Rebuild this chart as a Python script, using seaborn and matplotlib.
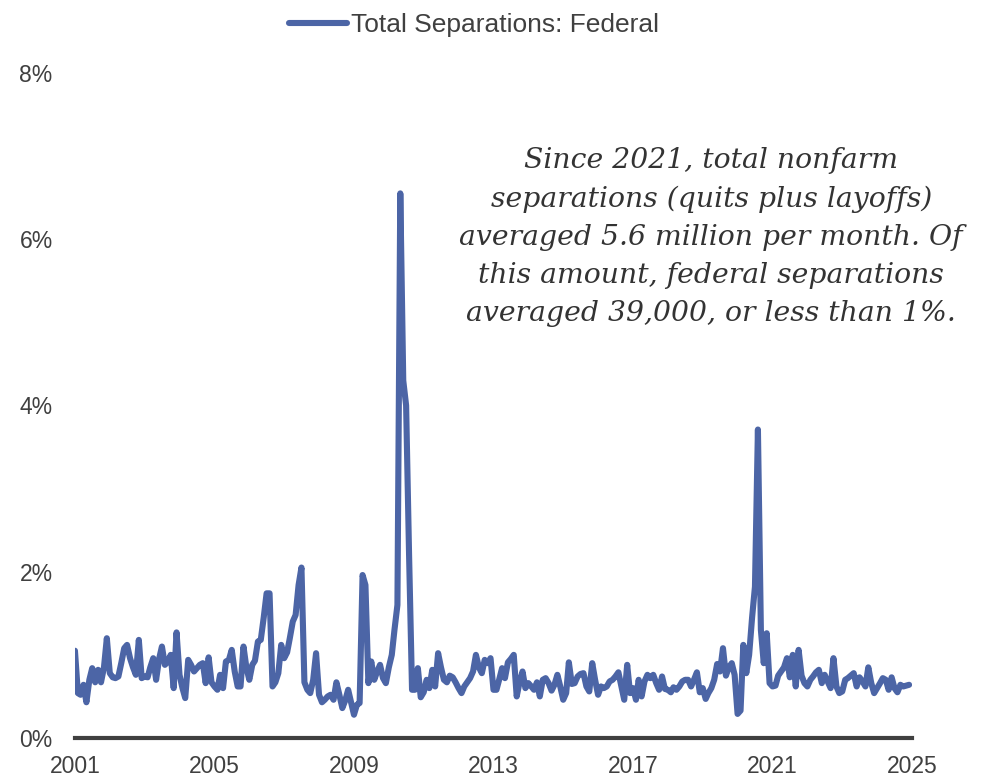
import pandas as pd
import matplotlib.pyplot as plt
import matplotlib.dates as mdates
import seaborn as sns

# monthly values, % of federal employment, Jan 2001 - Dec 2024
sep_2001 = [1.05, 0.54, 0.52, 0.64, 0.43, 0.70, 0.84, 0.67, 0.82, 0.67, 0.85, 1.20]
sep_2002 = [0.78, 0.73, 0.72, 0.74, 0.90, 1.08, 1.12, 0.96, 0.85, 0.76, 1.18, 0.72]
sep_2003 = [0.74, 0.73, 0.85, 0.96, 0.70, 0.95, 1.10, 0.88, 0.92, 1.00, 0.60, 1.27]
sep_2004 = [0.76, 0.60, 0.48, 0.94, 0.88, 0.80, 0.84, 0.88, 0.90, 0.66, 0.97, 0.67]
sep_2005 = [0.62, 0.58, 0.76, 0.60, 0.92, 0.94, 1.06, 0.80, 0.62, 0.62, 1.10, 0.85]
sep_2006 = [0.70, 0.88, 0.93, 1.16, 1.18, 1.45, 1.74, 1.74, 0.62, 0.67, 0.78, 1.12]
sep_2007 = [0.96, 1.03, 1.20, 1.40, 1.48, 1.84, 2.05, 0.67, 0.58, 0.54, 0.70, 1.02]
sep_2008 = [0.52, 0.43, 0.46, 0.50, 0.52, 0.46, 0.67, 0.52, 0.36, 0.45, 0.58, 0.43]
sep_2009 = [0.28, 0.40, 0.42, 1.96, 1.84, 0.66, 0.92, 0.70, 0.80, 0.88, 0.72, 0.66]
sep_2010 = [0.85, 1.00, 1.30, 1.60, 6.55, 4.30, 4.00, 2.20, 0.58, 0.58, 0.84, 0.49]
sep_2011 = [0.55, 0.70, 0.60, 0.82, 0.62, 1.02, 0.85, 0.70, 0.67, 0.75, 0.73, 0.67]
sep_2012 = [0.60, 0.54, 0.62, 0.67, 0.72, 0.80, 1.00, 0.85, 0.78, 0.94, 0.90, 0.96]
sep_2013 = [0.58, 0.58, 0.70, 0.84, 0.72, 0.91, 0.95, 1.00, 0.50, 0.67, 0.80, 0.60]
sep_2014 = [0.66, 0.62, 0.58, 0.67, 0.50, 0.70, 0.72, 0.66, 0.57, 0.64, 0.76, 0.62]
sep_2015 = [0.46, 0.54, 0.91, 0.65, 0.66, 0.74, 0.77, 0.78, 0.62, 0.56, 0.90, 0.70]
sep_2016 = [0.52, 0.62, 0.60, 0.62, 0.68, 0.70, 0.74, 0.79, 0.62, 0.46, 0.88, 0.54]
sep_2017 = [0.60, 0.46, 0.70, 0.50, 0.68, 0.76, 0.72, 0.76, 0.66, 0.58, 0.74, 0.59]
sep_2018 = [0.58, 0.55, 0.61, 0.58, 0.62, 0.68, 0.70, 0.70, 0.62, 0.70, 0.79, 0.55]
sep_2019 = [0.60, 0.47, 0.54, 0.60, 0.70, 0.89, 0.80, 1.08, 0.75, 0.85, 0.90, 0.76]
sep_2020 = [0.29, 0.33, 1.12, 0.78, 1.00, 1.45, 1.82, 3.71, 1.30, 0.90, 1.26, 0.66]
sep_2021 = [0.62, 0.63, 0.75, 0.80, 0.85, 0.96, 0.73, 1.00, 0.62, 1.06, 0.75, 0.66]
sep_2022 = [0.62, 0.70, 0.74, 0.79, 0.82, 0.66, 0.76, 0.68, 0.60, 0.96, 0.62, 0.54]
sep_2023 = [0.56, 0.70, 0.72, 0.75, 0.78, 0.62, 0.73, 0.68, 0.62, 0.85, 0.66, 0.54]
sep_2024 = [0.60, 0.66, 0.72, 0.70, 0.58, 0.73, 0.60, 0.55, 0.64, 0.62, 0.63, 0.64]

values = (sep_2001 + sep_2002 + sep_2003 + sep_2004 + sep_2005 + sep_2006
          + sep_2007 + sep_2008 + sep_2009 + sep_2010 + sep_2011 + sep_2012
          + sep_2013 + sep_2014 + sep_2015 + sep_2016 + sep_2017 + sep_2018
          + sep_2019 + sep_2020 + sep_2021 + sep_2022 + sep_2023 + sep_2024)
dates = pd.date_range("2001-01-01", periods=len(values), freq="MS")
df = pd.DataFrame({"date": dates, "sep": values})

tick_years = [2001, 2005, 2009, 2013, 2017, 2021, 2025]
y_ticks = [0, 2, 4, 6, 8]

note = ("Since 2021, total nonfarm\n"
        "separations (quits plus layoffs)\n"
        "averaged 5.6 million per month. Of\n"
        "this amount, federal separations\n"
        "averaged 39,000, or less than 1%.")

sns.set_theme(style="white")
plt.rcParams["font.family"] = ["Liberation Sans", "DejaVu Sans"]

fig = plt.figure(figsize=(9.86, 7.78), dpi=100)
ax = fig.add_axes([0.076, 0.0514, 0.849, 0.855])

sns.lineplot(data=df, x="date", y="sep", ax=ax, color="#4C65A6", lw=4.4,
             label="Total Separations: Federal")

ax.set_xlim(pd.Timestamp("2001-01-01"), pd.Timestamp("2025-01-01"))
ax.set_ylim(0, 8)
ax.set_xticks([pd.Timestamp(f"{y}-01-01") for y in tick_years])
ax.xaxis.set_major_formatter(mdates.DateFormatter("%Y"))
ax.set_yticks(y_ticks)
ax.set_yticklabels([f"{t}%" for t in y_ticks])
ax.tick_params(axis="both", length=0, labelsize=16.5, labelcolor="#404040")
ax.tick_params(axis="y", pad=16)
ax.tick_params(axis="x", pad=12)
ax.set_xlabel("")
ax.set_ylabel("")

for s in ["left", "right", "top"]:
    ax.spines[s].set_visible(False)
ax.spines["bottom"].set_color("#404040")
ax.spines["bottom"].set_linewidth(3)

ax.text(0.760, 0.888, note, transform=ax.transAxes, ha="center", va="top",
        fontsize=20.3, style="italic", family="DejaVu Serif", color="#333333",
        linespacing=1.53)

ax.legend(loc="upper center", bbox_to_anchor=(0.477, 1.125), frameon=False,
          fontsize=19, handlelength=2.2, handletextpad=0.15,
          labelcolor="#404040")

fig.savefig("out.png", dpi=100)
